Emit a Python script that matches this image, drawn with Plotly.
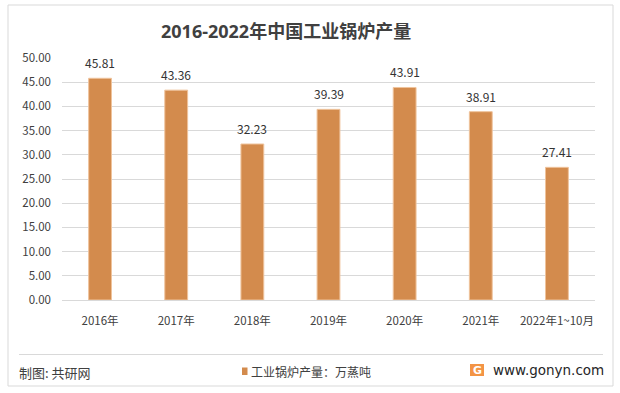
import plotly.graph_objects as go

categories = ["2016年", "2017年", "2018年", "2019年", "2020年", "2021年", "2022年1~10月"]
values = [45.81, 43.36, 32.23, 39.39, 43.91, 38.91, 27.41]
y_ticks = [0, 5, 10, 15, 20, 25, 30, 35, 40, 45, 50]
y_tick_labels = [f"{v:.2f}" for v in y_ticks]
series_name = "工业锅炉产量：万蒸吨"
title_text = "2016-2022年中国工业锅炉产量"
source_text = "制图: 共研网"
site_text = "www.gonyn.com"

W, H = 620, 393
L, R, T, B = 62, 25, 58, 93
PW, PH = W - L - R, H - T - B

def px(x):
    return (x - L) / PW

def py(y):
    return 1 - (y - T) / PH

FONT = "Noto Sans CJK SC, Microsoft YaHei, sans-serif"
TITLE_FONT = "Noto Sans, Noto Sans CJK SC, sans-serif"
BAR_COLOR = "#D38B4D"
TXT = "#404040"

fig = go.Figure()
fig.add_trace(go.Bar(
    x=categories, y=values, name=series_name,
    marker=dict(color=BAR_COLOR, line=dict(width=1, color="#EFC39C")),
    width=0.30,
    showlegend=False,
    hoverinfo="skip",
))

# data labels from the data
for c, v in zip(categories, values):
    fig.add_annotation(x=c, y=v, xref="x", yref="y", text=f"{v:.2f}", showarrow=False,
                       yanchor="bottom", yshift=5,
                       font=dict(size=12, color="#333333", family=FONT))

fig.update_layout(
    width=W, height=H,
    margin=dict(l=L, r=R, t=T, b=B, autoexpand=False),
    paper_bgcolor="white", plot_bgcolor="white",
    font=dict(family=FONT, color=TXT, size=11),
    showlegend=False,
    yaxis=dict(range=[0, 50], tickvals=y_ticks, ticktext=y_tick_labels,
               showgrid=True, gridcolor="#D9D9D9", gridwidth=1, zeroline=False,
               showline=False, ticks="", ticklabelstandoff=10,
               tickfont=dict(size=11.5, color=TXT, family=FONT)),
    xaxis=dict(showline=True, linecolor="#D9D9D9", linewidth=1, ticks="",
               tickfont=dict(size=11.5, color=TXT, family=FONT), ticklabelstandoff=10),
)

# title
fig.add_annotation(text=f"<b>{title_text}</b>", x=px(286), y=py(31), xref="paper", yref="paper",
                   showarrow=False, font=dict(size=18, color=TXT, family=TITLE_FONT),
                   xanchor="center", yanchor="middle")
# footer source
fig.add_annotation(text=source_text, x=px(17), y=py(372), xref="paper", yref="paper",
                   showarrow=False, font=dict(size=13, color=TXT, family=FONT),
                   xanchor="left", yanchor="middle")
# legend (manual)
fig.add_shape(type="rect", xref="paper", yref="paper", x0=px(242), x1=px(247.5), y0=py(375), y1=py(367.5),
              fillcolor=BAR_COLOR, line=dict(width=0))
fig.add_annotation(text=series_name, x=px(249), y=py(371), xref="paper", yref="paper",
                   showarrow=False, font=dict(size=12, color=TXT, family=FONT),
                   xanchor="left", yanchor="middle")
# site
fig.add_annotation(text=site_text, x=px(491), y=py(370), xref="paper", yref="paper",
                   showarrow=False, font=dict(size=13.5, color="#262626", family="DejaVu Sans, sans-serif"),
                   xanchor="left", yanchor="middle")
# logo
fig.add_shape(type="rect", xref="paper", yref="paper", x0=px(470), x1=px(484), y0=py(376), y1=py(364),
              fillcolor="#F39445", line=dict(width=0))
fig.add_annotation(text="<b>G</b>", x=px(477), y=py(370.5), xref="paper", yref="paper",
                   showarrow=False, font=dict(size=11, color="white", family="DejaVu Sans"),
                   xanchor="center", yanchor="middle")
# separator line
fig.add_shape(type="line", xref="paper", yref="paper", x0=px(19), x1=px(603), y0=py(354.5), y1=py(354.5),
              line=dict(color="#D9D9D9", width=1))
# outer border
fig.add_shape(type="rect", xref="paper", yref="paper", x0=px(8), x1=px(613), y0=py(386), y1=py(5),
              line=dict(color="#D9D9D9", width=1), fillcolor="rgba(0,0,0,0)")

fig.write_html("out.html", config={"displayModeBar": False},
               post_script="document.body.style.margin='0';document.body.style.overflow='hidden';")
